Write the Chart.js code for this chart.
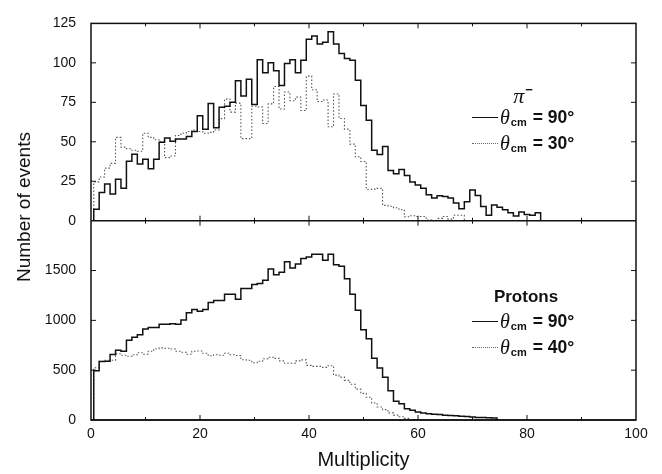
<!DOCTYPE html>
<html>
<head>
<meta charset="utf-8">
<title>Multiplicity distributions</title>
<script src="https://cdn.jsdelivr.net/npm/chart.js@4.4.1/dist/chart.umd.min.js"></script>
<style>
  html, body { margin: 0; padding: 0; background: #fff; }
  #wrap { position: relative; width: 662px; height: 474px; font-family: 'Liberation Sans', Arial, sans-serif; color: #111; }
  #chart { position: absolute; left: 0; top: 0; }
  .ytitle { position: absolute; left: 24px; top: 207px; transform: translate(-50%, -50%) rotate(-90deg); font-size: 19px; white-space: nowrap; }
  .head { position: absolute; transform: translate(-50%, -50%); white-space: nowrap; }
  .pi { font-family: 'Liberation Serif', serif; font-style: italic; font-size: 22px; }
  .pi sup { font-family: 'Liberation Sans', Arial, sans-serif; font-style: normal; font-weight: bold; font-size: 13px; vertical-align: 9px; margin-left: 1px; }
  .protons { font-size: 17px; font-weight: bold; }
  .key { position: absolute; left: 472px; height: 24px; display: flex; align-items: center; white-space: nowrap; }
  .key .sample { width: 26px; height: 0; border-top: 1.2px solid #111; }
  .key .sample.dot { border-top: 1.2px dotted #666; }
  .key .th { font-family: 'Liberation Serif', serif; font-style: italic; font-size: 20px; margin-left: 2px; }
  .key .cm { font-size: 11px; font-weight: bold; position: relative; top: 5px; margin-left: 1px; }
  .key .eq { font-size: 17.5px; font-weight: bold; margin-left: 6px; }
</style>
</head>
<body>
<div id="wrap">
  <canvas id="chart" width="662" height="474"></canvas>
  <div class="ytitle">Number of events</div>

  <div class="head pi" style="left: 523px; top: 95px;">π<sup>−</sup></div>
  <div class="key" style="top: 105px;"><span class="sample"></span><span class="th">θ</span><span class="cm">cm</span><span class="eq">= 90°</span></div>
  <div class="key" style="top: 131px;"><span class="sample dot"></span><span class="th">θ</span><span class="cm">cm</span><span class="eq">= 30°</span></div>

  <div class="head protons" style="left: 526px; top: 297px;">Protons</div>
  <div class="key" style="top: 309px;"><span class="sample"></span><span class="th">θ</span><span class="cm">cm</span><span class="eq">= 90°</span></div>
  <div class="key" style="top: 335px;"><span class="sample dot"></span><span class="th">θ</span><span class="cm">cm</span><span class="eq">= 40°</span></div>
</div>

<script>
// events per multiplicity, index = multiplicity (0, 1, 2, ...)
const pionTheta90 = [
  0, 7.2, 17.9, 23.2, 17, 26.3, 20.5, 37.6, 42.1, 35.9,
  39, 32.9, 39, 49.7, 52.4, 50.3, 51.7, 51.7, 53.4, 56.5,
  66.5, 57.9, 74.3, 58.9, 71.9, 72.5, 75, 88.7, 79, 89.7,
  73.7, 102, 93.8, 100, 95, 85.6, 99.6, 102, 93.8, 101.6,
  115, 117, 112, 113, 119.7, 112, 106, 102.7, 101.6, 89,
  73, 63.7, 44.6, 42, 47, 31.8, 29.8, 32.4, 28.7, 24.6,
  22.6, 20.5, 16.4, 14.4, 15.8, 15.4, 14.4, 11.3, 7.6, 12,
  19.5, 16, 9, 3.5, 10, 8.5, 7, 5, 3, 5.5,
  4, 3.5, 5, 0
]
const pionTheta30 = [
  0, 24.6, 27.7, 33.3, 36.3, 52.8, 46.6, 45.6, 44.6, 44,
  55.4, 52.8, 51.3, 50, 40, 41, 54, 55.4, 56.5, 57.5,
  56.5, 55.4, 56, 57.5, 64.7, 77, 68.8, 74.5, 52, 52,
  72.5, 72, 61.6, 74, 85, 70.8, 81.5, 76, 78.3, 69.8,
  91.6, 83, 75.5, 76.5, 59.5, 80.3, 64.8, 58, 48.5, 40.5,
  37.5, 19.8, 20, 20.5, 9.7, 9.2, 8.2, 7, 2.5, 3.2,
  2.7, 2.7, 0.5, 0, 1.5, 2.7, 1, 3.5, 3.5, 0
]
const protonTheta90 = [
  0, 495, 587, 590, 658, 700, 690, 800, 830, 855,
  913, 929, 929, 962, 962, 965, 962, 1004, 1076, 1108,
  1092, 1108, 1180, 1200, 1200, 1262, 1262, 1213, 1320, 1320,
  1359, 1369, 1402, 1516, 1457, 1483, 1588, 1526, 1565, 1620,
  1636, 1663, 1663, 1604, 1663, 1558, 1542, 1418, 1262, 1102,
  906, 815, 619, 522, 430, 293, 189, 163, 114, 98,
  81, 70, 62, 58, 55, 48, 45, 42, 38, 35,
  30, 26, 24, 22, 20, 0
]
const protonTheta40 = [
  0, 525, 590, 600, 600, 665, 650, 640, 655, 675,
  660, 690, 715, 724, 720, 712, 690, 680, 660, 690,
  692, 670, 645, 655, 650, 670, 655, 648, 605, 600,
  575, 590, 615, 630, 619, 593, 570, 570, 593, 603,
  548, 538, 538, 528, 545, 450, 430, 398, 359, 310,
  267, 228, 170, 130, 104, 72, 49, 33, 16, 5,
  0
]

const xTicks = [0, 20, 40, 60, 80, 100]
const pionTicks = [0, 25, 50, 75, 100, 125]
const protonTicks = [0, 500, 1000, 1500]

const ink = '#111'
Chart.defaults.font.family = "'Liberation Sans', Arial, sans-serif"
Chart.defaults.color = ink

const toPoints = vals => vals.map((v, i) => ({ x: i, y: v }))

function histo(label, vals, axis, dotted) {
  return {
    label: label,
    data: toPoints(vals),
    yAxisID: axis,
    stepped: 'middle',
    borderColor: dotted ? '#555' : ink,
    borderWidth: dotted ? 1.1 : 1.5,
    borderDash: dotted ? [1.5, 2] : [],
    pointRadius: 0,
    fill: false
  }
}

// frame round both panels with the little inward ticks on every side
const frame = {
  id: 'frame',
  afterDatasetsDraw(chart) {
    const { ctx, chartArea, scales } = chart
    const x = scales.x
    ctx.save()
    ctx.strokeStyle = ink
    ctx.lineWidth = 1.5
    ctx.strokeRect(chartArea.left, chartArea.top, chartArea.width, chartArea.height)
    ;['yTop', 'yBot'].forEach(id => {
      const y = scales[id]
      ctx.lineWidth = 1.5
      ctx.beginPath()
      ctx.moveTo(chartArea.left, y.bottom)
      ctx.lineTo(chartArea.right, y.bottom)
      ctx.stroke()
      ctx.lineWidth = 1
      ctx.beginPath()
      for (let v = 10; v < 100; v += 10) {
        const px = x.getPixelForValue(v)
        const len = v % 20 === 0 ? 5 : 3
        ctx.moveTo(px, y.top)
        ctx.lineTo(px, y.top + len)
        ctx.moveTo(px, y.bottom)
        ctx.lineTo(px, y.bottom - len)
      }
      y.ticks.forEach(t => {
        const py = y.getPixelForValue(t.value)
        if (py <= y.top + 1 || py >= y.bottom - 1) return
        ctx.moveTo(chartArea.left, py)
        ctx.lineTo(chartArea.left + 5, py)
        ctx.moveTo(chartArea.right, py)
        ctx.lineTo(chartArea.right - 5, py)
      })
      ctx.stroke()
    })
    ctx.restore()
  }
}

function yAxis(max, ticks, weight) {
  return {
    type: 'linear',
    position: 'left',
    stack: 'panels',
    stackWeight: weight,
    min: 0,
    max: max,
    grid: { display: false, drawTicks: false },
    border: { display: false },
    afterBuildTicks: s => { s.ticks = ticks.map(v => ({ value: v })) },
    ticks: { padding: 15, color: ink, font: { size: 14 }, callback: v => String(v) },
    afterFit: s => { s.width = 91 }
  }
}

const ctx = document.getElementById('chart').getContext('2d')
const chart = new Chart(ctx, {
  type: 'line',
  data: {
    datasets: [
      histo('π− θcm = 90°', pionTheta90, 'yTop', false),
      histo('π− θcm = 30°', pionTheta30, 'yTop', true),
      histo('Protons θcm = 90°', protonTheta90, 'yBot', false),
      histo('Protons θcm = 40°', protonTheta40, 'yBot', true)
    ]
  },
  options: {
    responsive: false,
    animation: false,
    devicePixelRatio: 1,
    layout: { padding: { top: 12, right: 26, left: 0, bottom: 0 } },
    elements: { line: { tension: 0 } },
    plugins: { legend: { display: false }, tooltip: { enabled: false } },
    scales: {
      x: {
        type: 'linear',
        min: 0,
        max: 100,
        grid: { display: false, drawTicks: false },
        border: { display: false },
        afterBuildTicks: s => { s.ticks = xTicks.map(v => ({ value: v })) },
        ticks: { padding: 6, color: ink, font: { size: 14 }, maxRotation: 0, callback: v => String(v) },
        title: { display: true, text: 'Multiplicity', color: ink, font: { size: 20 }, padding: { top: 4, bottom: 2 } },
        afterFit: s => { s.height = 54 }
      },
      yBot: yAxis(2000, protonTicks, 205),
      yTop: yAxis(125, pionTicks, 203)
    }
  },
  plugins: [frame]
})
</script>
</body>
</html>
